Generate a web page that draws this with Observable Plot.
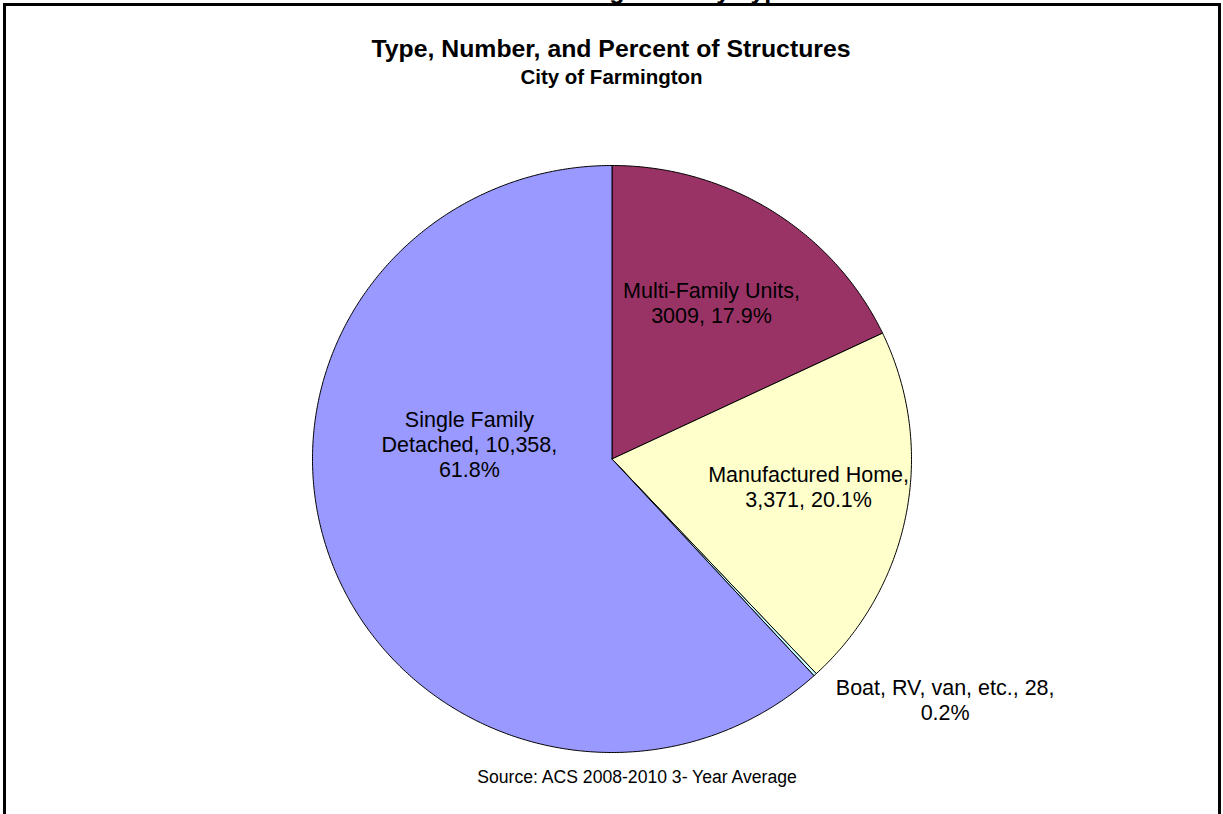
<!DOCTYPE html>
<html><head><meta charset="utf-8">
<script src="https://cdn.jsdelivr.net/npm/d3@7"></script>
<script src="https://cdn.jsdelivr.net/npm/@observablehq/plot@0.6"></script>
<style>
html,body{margin:0;padding:0;background:#fff;overflow:hidden;width:1223px;height:814px;}
#wrap{position:relative;width:1223px;height:814px;font-family:Arial,"Liberation Sans",sans-serif;color:#000;}
#chart{position:absolute;left:0;top:0;}
#frame{position:absolute;left:3px;top:3px;width:1212px;height:900px;border:3px solid #000;pointer-events:none;}
.t{position:absolute;white-space:nowrap;line-height:1;transform:translateX(-50%);}
#cut{left:659px;top:-22px;font-size:25px;font-weight:bold;}
#title{left:611px;top:37px;font-size:24.8px;font-weight:bold;}
#sub{left:611.5px;top:67px;font-size:20.5px;font-weight:bold;}
#src{left:637px;top:769px;font-size:17.6px;}
</style></head><body>
<div id="wrap">
<div id="chart"></div>
<div id="frame"></div>
<div class="t" id="cut">Housing Units by Type</div>
<div class="t" id="title">Type, Number, and Percent of Structures</div>
<div class="t" id="sub">City of Farmington</div>
<div class="t" id="src">Source: ACS 2008-2010 3- Year Average</div>
</div>
<script>
// ---- data ----
const categories = ["Multi-Family Units", "Manufactured Home", "Boat, RV, van, etc.", "Single Family Detached"];
const counts = [3009, 3371, 28, 10358];
const percents = [17.9, 20.1, 0.2, 61.8];
const labelLines = [
  "Multi-Family Units,\n3009, 17.9%",
  "Manufactured Home,\n3,371, 20.1%",
  "Boat, RV, van, etc., 28,\n0.2%",
  "Single Family\nDetached, 10,358,\n61.8%"
];
const colors = ["#993366", "#FFFFCC", "#CCFFFF", "#9999FF"];

// ---- layout ----
const W = 1223, H = 814;
const cx = 611.5, cy = 458.5, rx = 299.5, ry = 293.5;
// label placement: [angle (deg, clockwise from 12 o'clock), radius fraction]
const labelPolar = [[32.0, 0.627], [98.1, 0.663], [126.4, 1.382], [276.2, 0.479]];

// ---- build slice polygons from the data ----
const total = d3.sum(counts);
const points = [];
let acc = 0;
categories.forEach((cat, i) => {
  const a0 = acc / total * 2 * Math.PI;
  acc += counts[i];
  const a1 = acc / total * 2 * Math.PI;
  const n = Math.max(2, Math.ceil((a1 - a0) / (Math.PI / 360)));
  points.push({cat, x: 0, y: 0});
  for (let k = 0; k <= n; k++) {
    const a = a0 + (a1 - a0) * k / n;
    points.push({cat, x: Math.sin(a), y: Math.cos(a)});
  }
  points.push({cat, x: 0, y: 0});
});

const labels = categories.map((cat, i) => {
  const a = labelPolar[i][0] * Math.PI / 180, r = labelPolar[i][1];
  return {cat, text: labelLines[i], x: r * Math.sin(a), y: r * Math.cos(a)};
});

const plot = Plot.plot({
  width: W, height: H,
  marginTop: 0, marginRight: 0, marginBottom: 0, marginLeft: 0,
  x: {domain: [-cx / rx, (W - cx) / rx], axis: null},
  y: {domain: [(cy - H) / ry, cy / ry], axis: null},
  color: {domain: categories, range: colors},
  style: {fontFamily: "Arial, 'Liberation Sans', sans-serif", background: "transparent"},
  marks: [
    Plot.line(points, {x: "x", y: "y", z: "cat", fill: "cat", stroke: "#000", strokeWidth: 1, strokeLinejoin: "round"}),
    Plot.text(labels, {x: "x", y: "y", text: "text", fontSize: 21.5, lineHeight: 25 / 21.5, textAnchor: "middle", lineAnchor: "middle", fill: "#000"})
  ]
});
document.getElementById("chart").appendChild(plot);
</script>
</body></html>
